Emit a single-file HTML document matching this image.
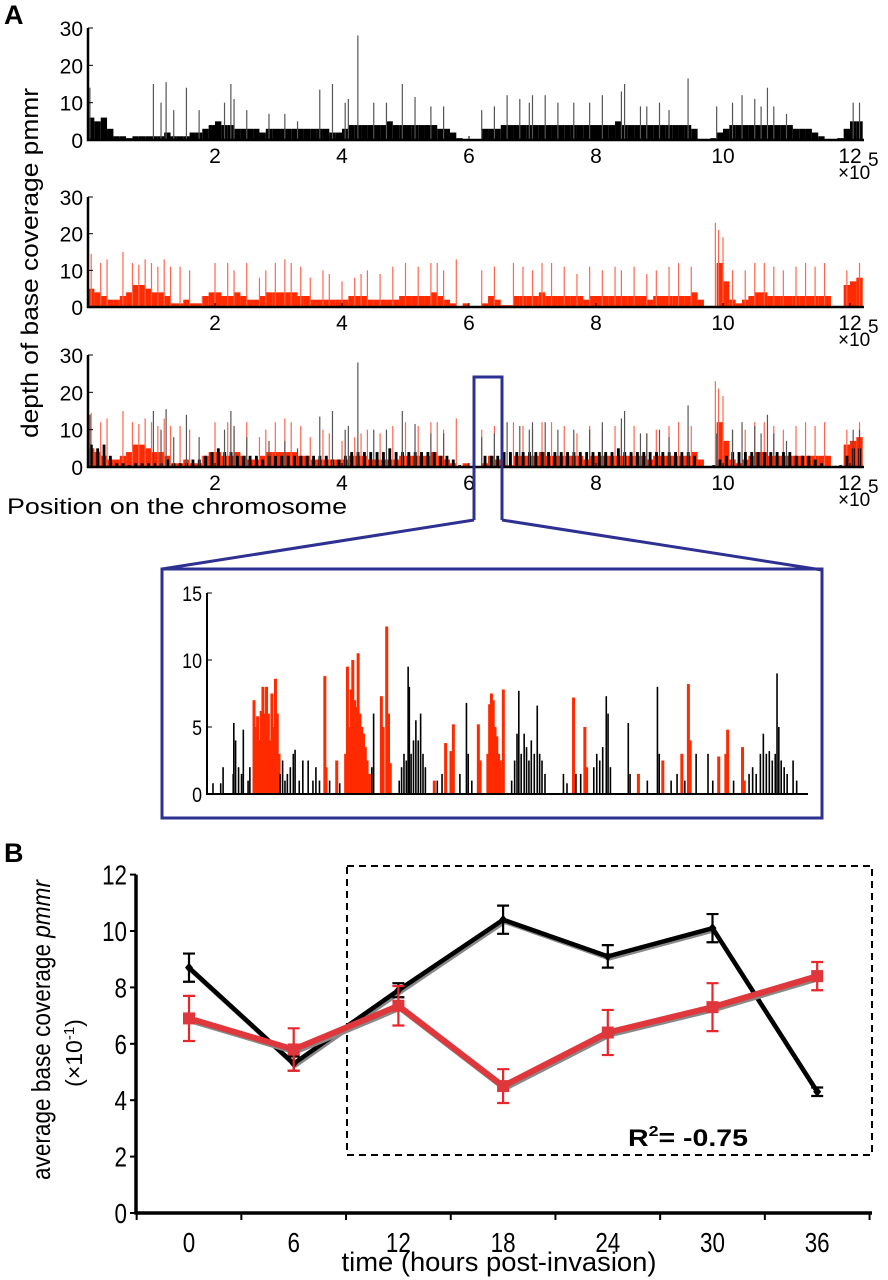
<!DOCTYPE html>
<html><head><meta charset="utf-8"><style>
html,body{margin:0;padding:0;background:#fff;}
svg{display:block;font-family:"Liberation Sans",sans-serif;}
.nar{font-family:"Liberation Sans Narrow","Liberation Sans",sans-serif;}
</style></head><body>
<svg id="fig" width="888" height="1280" viewBox="0 0 888 1280" xmlns="http://www.w3.org/2000/svg">
<text x="4" y="24" font-size="27" font-weight="bold">A</text>
<text transform="translate(38,263) rotate(-90)" text-anchor="middle" font-size="24" textLength="350" lengthAdjust="spacingAndGlyphs">depth of base coverage pmmr</text>
<text x="7" y="514" font-size="22" textLength="340" lengthAdjust="spacingAndGlyphs">Position on the chromosome</text>
<g id="tracks"></g>
<g id="zoomlines" fill="none" stroke="#2e3192" stroke-width="3">
<polyline points="474,520 474,377 502,377 502,520"/>
<polyline points="474,520 162,569"/>
<polyline points="502,520 822,570"/>
<rect x="162" y="569" width="660" height="249"/>
</g>
<g id="inset"></g>
<text x="4" y="862" font-size="27" font-weight="bold">B</text>
<g id="panelb"></g>
<text transform="translate(50,1030) rotate(-90)" text-anchor="middle" font-size="26" textLength="300" lengthAdjust="spacingAndGlyphs">average base coverage <tspan font-style="italic">pmmr</tspan></text>
<text transform="translate(82,1053) rotate(-90)" text-anchor="middle" font-size="23">(×10<tspan dy="-8" font-size="15">-1</tspan><tspan dy="8">)</tspan></text>
<text x="499" y="1271" text-anchor="middle" font-size="27" textLength="315" lengthAdjust="spacingAndGlyphs">time (hours post-invasion)</text>
<text x="628" y="1146" font-size="24" font-weight="bold" textLength="120" lengthAdjust="spacingAndGlyphs">R<tspan dy="-10" font-size="15">2</tspan><tspan dy="10">= -0.75</tspan></text>
</svg>
<script>
// ---------- Panel A data (bins of 1e4 bp; spikes pos in 1e4 bp) ----------
const blackBase = [6,5,6,3,1,1,0.5,1,1,1, 1,1,2,1,1,1,2,2,3,4, 5,4,4,3,3,3,3,2,3,3, 3,3,3,3,3,3,3,3,2,2, 3,4,4,4,4,4,4,5,4,4, 4,4,4,4,4,3,3,2,0.5,0, 0,0,3,3,3,4,4,4,4,4, 4,4,4,4,4,4,4,4,4,4, 4,4,4,5,4,4,4,4,4,4, 4,4,4,4,4,3,0,0,0.5,2, 3,4,4,4,4,4,4,4,4,4, 4,3,3,3,2,1,0,0,0.5,3, 5,5];
const blackSpikePos = [0.3,10.3,12.3,11.5,13.5,15.5,21.5,22.5,23,17.5,25,28.5,31,33,36.5,38.5,40.5,41,42.5,45,47,49.5,51.5,54,56,62,64,66,68,69.5,70,72,74,76.5,79,81,84,84.5,87,88,90,91.5,94.5,99,101.5,103,105,106,107,108,110,120.5,121.5];
const blackSpikeVal = [14,15,15.5,10,8,14,10,15,11,8,8,7,7,5,13.5,15,10,11,28,10,10,15,11.5,9,9,8,9,12,11,10,12,12,10,10,10,12,13,15,9,9,10,8,16.5,9,10,12,11,9,14,9,7,10,10];
const redBase = [5,4,3,2,2,3,4,6,6,5, 4,4,3,1,1,2,1,1,3,4, 4,3,3,4,3,2,2,3,4,4, 4,4,4,3,3,2,2,2,2,2, 2,3,3,3,2,2,2,2,2,3, 3,3,3,3,4,3,2,1,0,1, 0,0,1,3,2,0.5,0.5,3,3,3, 3,4,3,3,3,3,3,3,2,3, 3,3,3,3,3,3,3,3,2,3, 3,3,3,3,3,4,2,0,0,12, 7,2,1,2,3,4,4,3,3,3, 3,3,3,3,3,3,3,0,0,6, 7,8];
const redSpikePos = [0.5,2,3,5.5,7,8,9,10,11,12,13,14.5,16,18,20,22,23,25,27,28,29.5,31,32,33.5,35,37,38,40,42,43,44,46,48,50,52,54,55,56,58,62,64,67,68.5,70,71.5,73,75,77,79,81,83,84,86,88,89.5,91.5,93,95,98.8,99.3,100,101.5,103.5,105,106.5,108,109.5,111.5,113,114.5,116,119.5,121.5];
const redSpikeVal = [14.5,12,13,15,12,11.5,13,12,11,13,11,11,10,3,12,12,10,12,8,10,12,13,12,11,8,10,9,7,8,9,10,9,11,12,11,12,12,10,13,10,11,12,11,10,12,12,11,9,11,10,11,10,11,9,10,11,12,11,23,21,19,10,10,12,12,11,10,11,12,11,12,10,12];
const axisTicksA = [0,10,20,30];
const xTickLabelsA = ["2","4","6","8","10","12"];

// ---------- Inset data (pos = % of zoom window) ----------
const insetBlackPos = [0.5,1.8,2.2,3.9,4.0,4.3,4.8,5.6,5.3,6.7,6.4,11.8,12.2,12.6,13,13.5,14,14.3,15,15.6,16.5,17.3,17.8,18.4,20.1,21.8,27.5,27.2,31.8,32.2,32.6,33,33.3,33.5,33.8,34.2,34.6,35,35.4,35.8,36.2,38.2,39,42,43.1,43.4,44,50.7,51.2,51.6,51.9,52.3,52.8,53.2,53.6,54,54.5,55,55.4,55.8,56.3,59.4,60,61.5,62.3,64.5,65,65.5,66,66.6,66.9,67.3,70.3,70.6,73.5,75.2,75.5,77.5,78.5,79.8,81.7,83.7,84.5,88,90.6,91.2,91.8,92.5,93,93.5,94,94.5,95,95.3,95.6,96,96.5,97,98,98.6];
const insetBlackVal = [0.8,0.8,2,1.5,5.3,4,2,4.8,1.5,2,1,1.5,2.5,1,1.5,2,3,3.3,1,2.5,2.5,1,2,1,1,0.8,6,2,1,2,3,2.5,9.5,8,3,4,5.5,4,6,3,2,1,1.5,1.5,6.8,3,1,1,2.5,4.5,7.7,3,4.5,3.5,2.5,4,3,6.6,3,2.5,1.5,1.5,0.8,1.5,1.5,2,3,2.5,3.5,7.3,6,2,5.3,1.5,1,8,3,1,1.5,1,3,3,1,1,1.5,2,1.5,3,4.5,3,3.2,2.5,3,9,5,2.5,2,1.5,2.5,1];
const insetRedPos = [7.4,7.7,8,8.3,8.6,8.9,9.2,9.5,9.8,10.1,10.4,10.7,11,11.3,11.6,19.3,19.5,21.3,22.8,23.1,23.4,23.7,24,24.3,24.6,24.9,25.2,25.5,25.8,26.1,26.4,26.8,28.8,29.1,29.7,30,30.3,37.7,39.6,40.9,40.5,45.1,45.4,46.7,47,47.3,47.6,47.9,48.2,48.5,49.3,48.8,61.1,63,63.3,72,76.1,79.3,80.4,80.7,85.5,87,86.7,89.5,89.8];
const insetRedVal = [7,5,5.8,4,6.2,8,6,8,6,4,7.5,5,8.6,6,3,8.8,2,2.5,3,9.5,5,7.8,10,7,6.5,10.5,6,5,4.5,3.5,2.5,1.5,7.3,5,12.5,6,2.3,1,3.8,5.2,3.2,5.2,2.5,3,6.7,7.5,7,5,4.3,3,7.8,2.5,7.2,5,2,1.5,2.5,3,8.2,4,2.8,4.8,3,3.5,1];
const insetTicks = [0,5,10,15];

// ---------- Panel B data ----------
const hours = [0,6,12,18,24,30,36];
const blackMeans = [8.7,5.3,7.9,10.4,9.1,10.1,4.3];
const blackErr = [0.5,0.25,0.25,0.5,0.4,0.5,0.15];
const redMeans = [6.9,5.8,7.35,4.5,6.4,7.3,8.4];
const redErr = [0.8,0.75,0.7,0.6,0.8,0.85,0.5];
const yTicksB = [0,2,4,6,8,10,12];
const xTickLabelsB = ["0","6","12","18","24","30","36"];

const NS = "http://www.w3.org/2000/svg";
function mk(tag, attrs, parent, txt){const e=document.createElementNS(NS,tag);for(const k in attrs)e.setAttribute(k,attrs[k]);if(txt!==undefined)e.textContent=txt;parent.appendChild(e);return e;}

// ---------- Panel A ----------
const tracksG = document.getElementById('tracks');
const XA0 = 88, XPER = 6.35, XEND = 864;
const tracks = [
  {y0:140, top:28, layers:['b']},
  {y0:307, top:197, layers:['r']},
  {y0:467, top:355, layers:['r','b']}
];
tracks.forEach((t,ti)=>{
  const g = mk('g',{},tracksG);
  
  
  const ys = (t.y0-t.top)/30;
  const yA = v => t.y0 - v*ys;
  const xA = p => XA0 + p*XPER;
  t.layers.forEach(L=>{
    const base = L==='b'?blackBase:redBase;
    const sp = L==='b'?blackSpikePos:redSpikePos;
    const sv = L==='b'?blackSpikeVal:redSpikeVal;
    const overlay = (ti===2 && L==='b');
    const baseCol = L==='b'?'#000':'#ff2a00';
    const spCol = L==='b'?'#555':'#ff6650';
    base.forEach((v,i)=>{
      if(v<=0) return;
      const w = overlay?XPER*0.45:XPER;
      const r = mk('rect',{x:xA(i)+(overlay?XPER*0.3:0),y:yA(v),width:w,height:v*ys,fill:baseCol},g);
      
      
    });
    sp.forEach((p,i)=>{
      const l = mk('line',{x1:xA(p),x2:xA(p),y1:t.y0,y2:yA(sv[i]),stroke:spCol,'stroke-width':1.2},g);
      
      
    });
  });
  const ax = mk('path',{d:`M${XA0} ${t.top} V${t.y0} H${XEND}`,stroke:'#000','stroke-width':2.5,fill:'none'},g);
  
  
  axisTicksA.forEach(v=>{
    mk('line',{x1:XA0,x2:XA0+5,y1:yA(v),y2:yA(v),stroke:'#000','stroke-width':1},g);
    const tx = mk('text',{x:XA0-5,y:yA(v)+8,'text-anchor':'end','font-size':21},g,String(v));
    
    
  });
  xTickLabelsA.forEach(s=>{
    const x = XA0 + parseFloat(s)*10*XPER;
    mk('line',{x1:x,x2:x,y1:t.y0,y2:t.y0-4,stroke:'#000','stroke-width':1},g);
    const tx = mk('text',{x:x,y:t.y0+23,'text-anchor':'middle','font-size':21},g,s);
    
    
  });
  const mult = mk('text',{x:838,y:t.y0+39,'font-size':19},g,'×10');
  
  
  const ex = mk('text',{x:868,y:t.y0+26,'font-size':19},g,'5');
  
  
});

// ---------- Inset ----------
const insetG = document.getElementById('inset');
const IX0 = 207, IX1 = 808, IY0 = 794, IYS = (794-593)/15;
const xI = p => IX0 + 3 + p*(IX1-IX0-6)/100;
const yI = v => IY0 - v*IYS;
insetRedPos.forEach((p,i)=>{
  const r = mk('rect',{x:xI(p)-1.5,y:yI(insetRedVal[i]),width:3,height:insetRedVal[i]*IYS,fill:'#ff2a00'},insetG);
  
  
});
insetBlackPos.forEach((p,i)=>{
  const r = mk('rect',{x:xI(p)-0.8,y:yI(insetBlackVal[i]),width:1.6,height:insetBlackVal[i]*IYS,fill:'#000'},insetG);
  
  
});
const iax = mk('path',{d:`M${IX0} 593 V${IY0} H${IX1}`,stroke:'#000','stroke-width':2,fill:'none'},insetG);


insetTicks.forEach(v=>{
  mk('line',{x1:IX0,x2:IX0+5,y1:yI(v),y2:yI(v),stroke:'#000','stroke-width':1},insetG);
  const tx = mk('text',{x:IX0-5,y:yI(v)+8,'text-anchor':'end','font-size':21,transform:`translate(${(IX0-5)*0.15},0) scale(0.85,1)`},insetG,String(v));
  
  
});

// ---------- Panel B ----------
const pb = document.getElementById('panelb');
const xB = h => 189 + h*17.45;
const yB = v => 1213 - v*28.2;
const box = mk('rect',{x:347,y:866,width:525,height:289,fill:'none',stroke:'#000','stroke-width':2,'stroke-dasharray':'7,5'},pb);


const bax = mk('path',{d:`M136 ${yB(12)} V1213 H872`,stroke:'#000','stroke-width':3.5,fill:'none'},pb);


yTicksB.forEach(v=>{
  mk('line',{x1:130,x2:136,y1:yB(v),y2:yB(v),stroke:'#000','stroke-width':2},pb);
  const tx = mk('text',{x:127/0.8,y:yB(v)+10,'text-anchor':'end','font-size':28,transform:'scale(0.8,1)'},pb,String(v));
  
  
});
for(let h=-3; h<=39; h+=6){
  mk('line',{x1:xB(h),x2:xB(h),y1:1213,y2:1220,stroke:'#000','stroke-width':2},pb);
}
xTickLabelsB.forEach((s,i)=>{
  const tx = mk('text',{x:xB(hours[i])/0.8,y:1252,'text-anchor':'middle','font-size':28,transform:'scale(0.8,1)'},pb,s);
  
  
});
function series(means, err, col, w, marker, name){
  const g = mk('g',{},pb);
  
  
  const pts = hours.map((h,i)=>xB(h)+','+yB(means[i])).join(' ');
  mk('polyline',{points:hours.map((h,i)=>(xB(h)+1.5)+','+(yB(means[i])+2)).join(' '),fill:'none',stroke:'#888','stroke-width':w,'stroke-linejoin':'round'},g);
  const ln = mk('polyline',{points:pts,fill:'none',stroke:col,'stroke-width':w,'stroke-linejoin':'round'},g);
  
  
  hours.forEach((h,i)=>{
    const x = xB(h), y = yB(means[i]), e = err[i]*28.2;
    const eb = mk('path',{d:`M${x} ${y-e} V${y+e} M${x-6} ${y-e} H${x+6} M${x-6} ${y+e} H${x+6}`,stroke:col==='#000'?'#000':'#e8262b','stroke-width':2.2,fill:'none'},g);
    
    
    let m;
    if(marker==='sq') m = mk('rect',{x:x-6,y:y-6,width:12,height:12,fill:col},g);
    else m = mk('path',{d:`M${x} ${y-5} L${x+4} ${y} L${x} ${y+5} L${x-4} ${y} Z`,fill:col},g);
    
    
  });
}
series(blackMeans, blackErr, '#000', 4.5, 'di', 'black-series');
series(redMeans, redErr, '#e0373c', 6, 'sq', 'red-series');
</script>
</body></html>
